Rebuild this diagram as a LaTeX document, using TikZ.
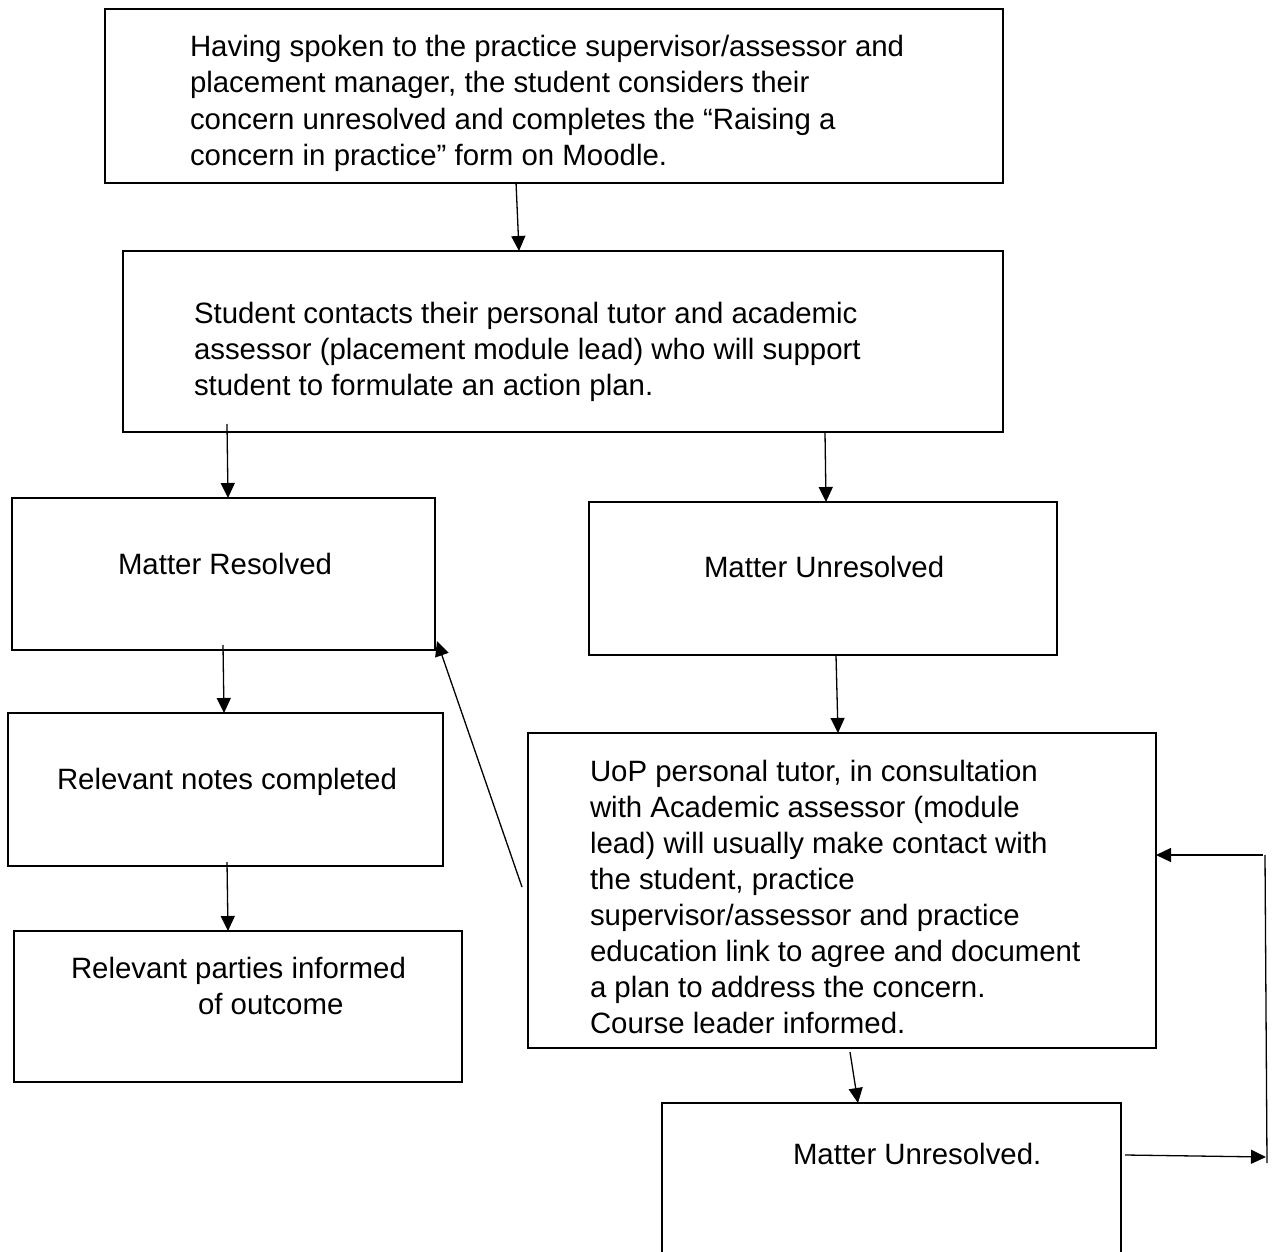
\documentclass[tikz,border=0pt]{standalone}
\usepackage{fontspec}
\setmainfont{Liberation Sans}
\usetikzlibrary{arrows.meta}
\begin{document}
\begin{tikzpicture}[x=1pt,y=-1pt,
  box/.style={draw,line width=2.6pt,inner sep=0pt,outer sep=0pt,anchor=north west},
  txt/.style={inner sep=0pt,outer sep=0pt,anchor=north west,align=left,font=\fontsize{29.4}{36.3}\selectfont},
  lbl/.style={inner sep=0pt,outer sep=0pt,anchor=base west,font=\fontsize{29.4}{36.3}\selectfont},
  arr/.style={line width=1.3pt,-{Triangle[length=15pt,width=14pt]}},
  ln/.style={line width=1.3pt}]
\clip (0,0) rectangle (1275,1252);
% boxes
\node[box,minimum width=898pt,minimum height=174pt] (top) at (105,9) {};
\node[box,minimum width=880pt,minimum height=181pt] (mid) at (123,251) {};
\node[box,minimum width=423pt,minimum height=152pt] (mr) at (12,498) {};
\node[box,minimum width=468pt,minimum height=153pt] (mu) at (589,502) {};
\node[box,minimum width=435pt,minimum height=153pt] (rn) at (8,713) {};
\node[box,minimum width=448pt,minimum height=151pt] (rp) at (14,931) {};
\node[box,minimum width=628pt,minimum height=315pt] (uop) at (528,733) {};
\node[box,minimum width=459pt,minimum height=170pt] (bot) at (662,1103) {};
% texts
\node[txt] (ttop) at (190,31) {\strut Having spoken to the practice supervisor/assessor and\\
placement manager, the student considers their\\
concern unresolved and completes the “Raising a\\
concern in practice” form on Moodle.};
\node[txt] (tmid) at (194,297.6) {\strut Student contacts their personal tutor and academic\\
assessor (placement module lead) who will support\\
student to formulate an action plan.};
\node[lbl] (tmr) at (118,574) {Matter Resolved};
\node[lbl] (tmu) at (704,577) {Matter Unresolved};
\node[lbl] (trn) at (57,789) {Relevant notes completed};
\node[txt,font=\fontsize{29.4}{35.5}\selectfont] (trp) at (71,954) {\strut Relevant parties informed\\
\hspace*{127pt}of outcome};
\node[txt,font=\fontsize{29.4}{35.9}\selectfont] (tuop) at (590,756.6) {\strut UoP personal tutor, in consultation\\
with Academic assessor (module\\
lead) will usually make contact with\\
the student, practice\\
supervisor/assessor and practice\\
education link to agree and document\\
a plan to address the concern.\\
Course leader informed.};
\node[lbl] (tbot) at (793,1164) {Matter Unresolved.};
% connectors
\draw[arr] ([xshift=411pt,yshift=1pt]top.south west) -- ([xshift=396pt]mid.north west);
\draw[arr] ([xshift=104pt,yshift=8pt]mid.south west) -- ([xshift=216pt]mr.north west);
\draw[arr] ([xshift=702pt]mid.south west) -- ([xshift=237pt]mu.north west);
\draw[arr] ([xshift=211pt,yshift=5pt]mr.south west) -- ([xshift=216pt]rn.north west);
\draw[arr] ([xshift=219pt,yshift=4pt]rn.south west) -- ([xshift=214pt]rp.north west);
\draw[arr] ([xshift=247pt]mu.south west) -- ([xshift=310pt]uop.north west);
\draw[arr] ([xshift=322pt,yshift=-4pt]uop.south west) -- ([xshift=196pt]bot.north west);
\draw[arr] ([xshift=-6pt,yshift=-154pt]uop.north west) -- ([xshift=2pt,yshift=9pt]mr.south east);
\coordinate (rb) at (1267,1163);
\coordinate (rt) at (1265,855);
\coordinate (rin) at (1266,1157);
\draw[arr] ([xshift=4pt,yshift=-52pt]bot.north east) -- (rin);
\draw[ln] (rb) -- (rt);
\draw[arr] ([xshift=-2pt]rt) -- (rt -| uop.east);
\end{tikzpicture}
\end{document}
